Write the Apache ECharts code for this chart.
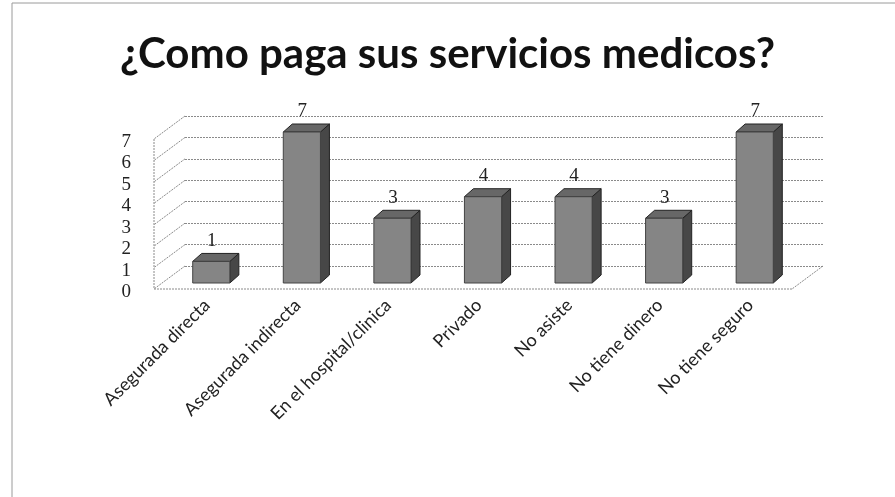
<!DOCTYPE html>
<html>
<head>
<meta charset="utf-8">
<style>
  html, body { margin: 0; padding: 0; background: #fff; }
  #chart { width: 895px; height: 497px; }
</style>
</head>
<body>
<div id="chart"></div>
<script src="https://cdn.jsdelivr.net/npm/echarts@6/dist/echarts.min.js"></script>
<script>
  const chart = echarts.init(document.getElementById('chart'));

  // datos
  const categories = ['Asegurada directa', 'Asegurada indirecta', 'En el hospital/clinica',
    'Privado', 'No asiste', 'No tiene dinero', 'No tiene seguro'];
  const values = [1, 7, 3, 4, 4, 3, 7];
  const yTicks = [0, 1, 2, 3, 4, 5, 6, 7];

  const depthX = 9, depthY = -8;      // profundidad de cada barra
  const wallX = -31, wallY = 23;      // pared lateral / piso

  function renderBar(params, api) {
    const i = api.value(0), v = api.value(1);
    const top = api.coord([i, v]);
    const base = api.coord([i, 0]);
    const w = api.size([1, 0])[0] * 0.41;
    const x0 = top[0] - w / 2, x1 = top[0] + w / 2;
    const y0 = top[1], y1 = base[1];
    return {
      type: 'group',
      children: [
        { type: 'polygon', shape: { points: [[x1, y0], [x1 + depthX, y0 + depthY], [x1 + depthX, y1 + depthY], [x1, y1]] },
          style: { fill: '#474747', stroke: '#222', lineWidth: 1 } },
        { type: 'polygon', shape: { points: [[x0, y0], [x0 + depthX, y0 + depthY], [x1 + depthX, y0 + depthY], [x1, y0]] },
          style: { fill: '#676767', stroke: '#222', lineWidth: 1 } },
        { type: 'rect', shape: { x: x0, y: y0, width: w, height: y1 - y0 },
          style: { fill: '#858585', stroke: '#444', lineWidth: 1 } },
        { type: 'text', style: { text: String(v), x: top[0] + depthX / 2 - 4, y: y0 + depthY - 3,
          align: 'center', verticalAlign: 'bottom', fill: '#222',
          font: '19px "Liberation Serif"' } }
      ]
    };
  }

  // pared izquierda y piso (a partir de las marcas del eje de atras)
  function renderWall(params, api) {
    const v = api.value(0);
    const cs = params.coordSys;
    const y = api.coord([0, v])[1];
    const line = { stroke: '#8a8a8a', lineWidth: 1, lineDash: [2, 1] };
    const children = [
      { type: 'line', shape: { x1: cs.x, y1: y, x2: cs.x + wallX, y2: y + wallY }, style: line }
    ];
    if (v === 0) {
      const yTop = api.coord([0, yTicks[yTicks.length - 1]])[1];
      children.push(
        { type: 'line', shape: { x1: cs.x + wallX, y1: y + wallY, x2: cs.x + cs.width + wallX, y2: y + wallY }, style: line },
        { type: 'line', shape: { x1: cs.x + cs.width, y1: y, x2: cs.x + cs.width + wallX, y2: y + wallY }, style: line },
        { type: 'line', shape: { x1: cs.x + wallX, y1: yTop + wallY, x2: cs.x + wallX, y2: y + wallY }, style: line }
      );
    }
    return { type: 'group', children: children };
  }

  const option = {
    animation: false,
    backgroundColor: '#fff',
    title: {
      text: '¿Como paga sus servicios medicos?',
      left: 'center',
      top: 28,
      textStyle: { fontFamily: 'Lato', fontWeight: 'bold', fontSize: 42, color: '#111' }
    },
    graphic: [
      { type: 'rect', shape: { x: 12, y: 3, width: 950, height: 600 },
        style: { fill: 'none', stroke: '#9a9a9a', lineWidth: 1 }, silent: true }
    ],
    grid: [
      { left: 166, right: 95, top: 132, bottom: 214 },
      { left: 185, right: 72, top: 116, bottom: 231 },
      { left: 154, width: 1, top: 142, bottom: 205 }
    ],
    xAxis: [
      { gridIndex: 0, type: 'category', data: categories,
        axisLine: { show: false }, axisTick: { show: false },
        axisLabel: { rotate: 45, margin: 15, interval: 0, padding: [0, 6, 0, 0],
          fontFamily: 'Lato', fontSize: 18, color: '#222' } },
      { gridIndex: 1, type: 'category', data: categories, show: false },
      { gridIndex: 2, type: 'value', show: false }
    ],
    yAxis: [
      { gridIndex: 0, type: 'value', min: 0, max: 7, interval: 1, show: false },
      { gridIndex: 1, type: 'value', min: 0, max: 7, interval: 1,
        axisLine: { show: false }, axisTick: { show: false }, axisLabel: { show: false },
        splitLine: { lineStyle: { color: '#8a8a8a', type: [2, 1], width: 1 } } },
      { gridIndex: 2, type: 'value', min: 0, max: 7, interval: 1,
        axisLine: { show: false }, axisTick: { show: false }, splitLine: { show: false },
        axisLabel: { margin: 23, fontFamily: 'Liberation Serif', fontSize: 19, color: '#222' } }
    ],
    series: [
      { type: 'custom', xAxisIndex: 1, yAxisIndex: 1, renderItem: renderWall,
        data: yTicks.map(t => [t]), silent: true, z: 1 },
      { type: 'custom', xAxisIndex: 0, yAxisIndex: 0, renderItem: renderBar,
        data: values.map((v, i) => [i, v]), z: 5 }
    ]
  };

  chart.setOption(option);
</script>
</body>
</html>
